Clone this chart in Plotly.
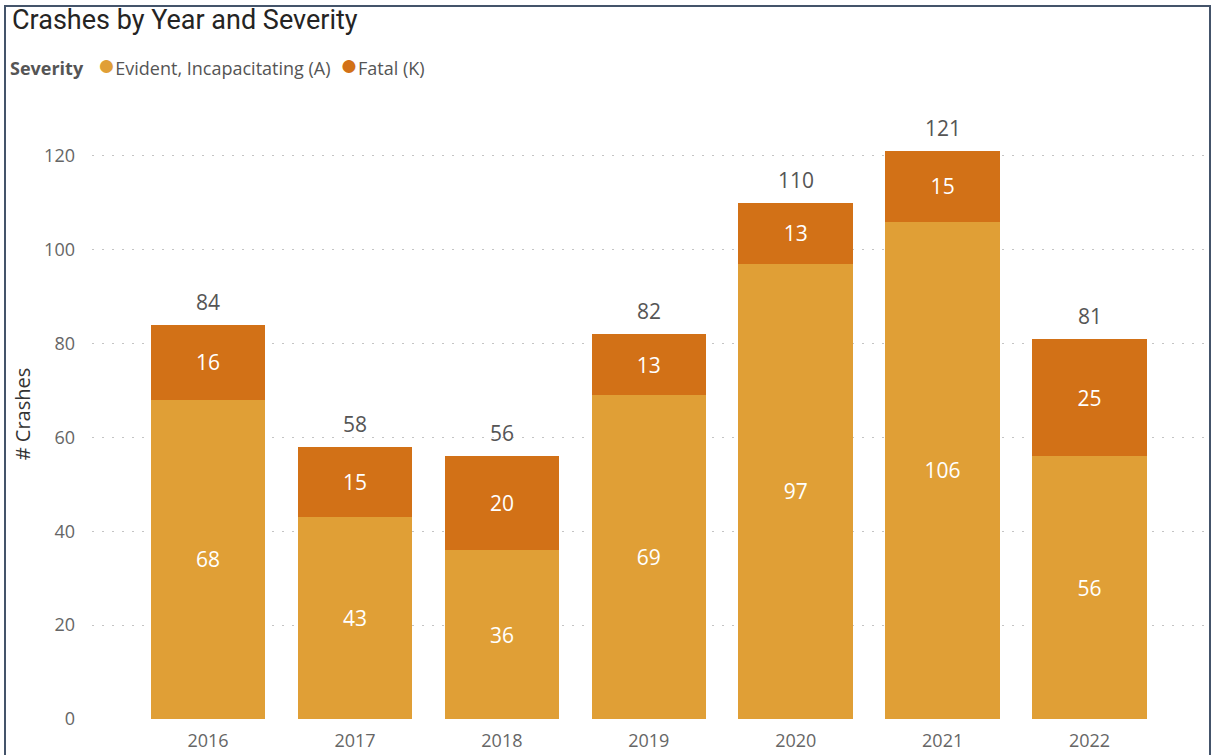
import plotly.graph_objects as go

years = ["2016", "2017", "2018", "2019", "2020", "2021", "2022"]
incapacitating = [68, 43, 36, 69, 97, 106, 56]
fatal = [16, 15, 20, 13, 13, 15, 25]
totals = [a + k for a, k in zip(incapacitating, fatal)]

series_names = ["Evident, Incapacitating (A)", "Fatal (K)"]
colors = ["#E09F36", "#D27117"]

W, H = 1216, 755
ML, MR, MT, MB = 92, 6, 109, 36
PW, PH = W - ML - MR, H - MT - MB

fig = go.Figure()
for name, vals, col in zip(series_names, [incapacitating, fatal], colors):
    fig.add_trace(go.Bar(
        x=years, y=vals, name=name, marker=dict(color=col, line=dict(width=0)),
        text=[str(v) for v in vals], textposition="inside", insidetextanchor="middle",
        textfont=dict(color="white", size=21, family="Open Sans"),
        textangle=0, showlegend=False, hoverinfo="x+y+name",
    ))

for i, t in enumerate(totals):
    fig.add_annotation(x=i, y=t, text=str(t), showarrow=False, yanchor="bottom",
                       yshift=7, font=dict(size=21, color="#555555", family="Open Sans"))

fig.update_layout(
    width=W, height=H, barmode="stack", bargap=0.22,
    margin=dict(l=ML, r=MR, t=MT, b=MB, autoexpand=False),
    plot_bgcolor="white", paper_bgcolor="white",
    font=dict(family="Open Sans", color="#666666"),
    xaxis=dict(type="category", range=[-0.79, 6.82], showgrid=False, showline=False,
               zeroline=False, ticks="", ticklabelstandoff=9, automargin=False,
               tickfont=dict(size=18, color="#666666")),
    yaxis=dict(range=[0, 130], tickvals=[0, 20, 40, 60, 80, 100, 120], showgrid=True,
               gridcolor="#C4C4C4", griddash="1.5px,8.5px", gridwidth=1.3, zeroline=False,
               ticks="", ticklabelstandoff=16, automargin=False,
               tickfont=dict(size=18, color="#666666"),
               title=dict(text="# Crashes", font=dict(size=20, color="#333333"), standoff=8)),
    showlegend=False,
)

def px_to_paper_x(px):
    return (px - ML) / PW

def px_to_paper_y(py):
    return (H - MB - py) / PH

fig.add_annotation(xref="paper", yref="paper", x=px_to_paper_x(10), y=px_to_paper_y(20),
                   xanchor="left", yanchor="middle", showarrow=False,
                   text="Crashes by Year and Severity",
                   font=dict(size=27, color="#252423", family="Roboto"))

legend_text = ("<b>Severity</b>   "
               + "&nbsp;&nbsp;".join(f"<span style='color:{c};font-size:30px'>●</span>{n}"
                                     for n, c in zip(series_names, colors)))
fig.add_annotation(xref="paper", yref="paper", x=px_to_paper_x(8), y=px_to_paper_y(63),
                   xanchor="left", yanchor="middle", showarrow=False, text=legend_text,
                   font=dict(size=18, color="#555555", family="Open Sans"))

fig.add_shape(type="rect", xref="paper", yref="paper",
              x0=px_to_paper_x(5), x1=px_to_paper_x(1210),
              y0=px_to_paper_y(770), y1=px_to_paper_y(6),
              line=dict(color="#44546A", width=2), fillcolor="rgba(0,0,0,0)", layer="above")

fig.write_html("out.html", config={"displayModeBar": False},
               post_script="document.body.style.margin='0';")
